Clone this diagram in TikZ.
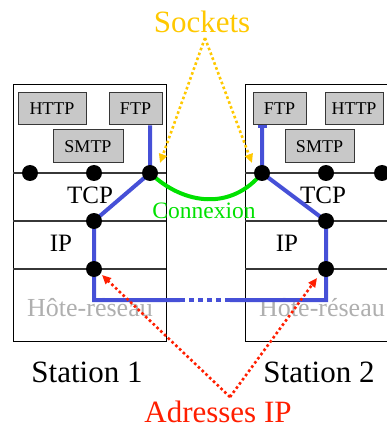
\documentclass[tikz,border=0pt]{standalone}
\usepackage{fontspec}
\setmainfont{Liberation Serif}
\usetikzlibrary{arrows.meta}
\definecolor{sockblue}{RGB}{70,80,215}
\definecolor{conngreen}{RGB}{0,225,0}
\definecolor{sockgold}{RGB}{255,200,0}
\definecolor{ipred}{RGB}{255,30,0}
\definecolor{layergray}{RGB}{55,55,55}
\definecolor{boxgray}{RGB}{200,200,200}
\definecolor{hostgray}{RGB}{175,175,175}
\tikzset{
  station/.style={draw=black,line width=1pt},
  layerline/.style={draw=layergray,line width=2pt},
  proto/.style={draw=layergray,fill=boxgray,line width=1pt,minimum height=32pt,inner sep=0pt,font=\fontsize{18}{18}\selectfont},
  dot/.style={circle,fill=black,minimum size=16pt,inner sep=0pt},
  bluepath/.style={draw=sockblue,line width=4pt},
  lbl/.style={inner sep=0pt,font=\fontsize{25}{25}\selectfont},
  big/.style={inner sep=0pt,font=\fontsize{31}{31}\selectfont},
  goldarrow/.style={draw=sockgold,line width=2.6pt,dash pattern=on 2.6pt off 2.6pt,-{Triangle[length=9pt,width=8pt]}},
  redarrow/.style={draw=ipred,line width=2.6pt,dash pattern=on 2.6pt off 2.6pt,-{Triangle[length=9pt,width=8pt]}},
}
\begin{document}
\begin{tikzpicture}[x=1pt,y=-1pt]
\useasboundingbox (0,0) rectangle (387,430);
% station boxes
\draw[station] (13,85) rectangle (166,341);
\draw[station] (245,85) rectangle (400,341);
\foreach \y in {173,221,269}{
  \draw[layerline] (13,\y) -- (166,\y);
  \draw[layerline] (245,\y) -- (400,\y);
}
% protocol boxes
\node[proto,minimum width=68pt] (http1) at (52,109) {HTTP};
\node[proto,minimum width=53pt] (ftp1) at (135.5,109) {FTP};
\node[proto,minimum width=70pt,minimum height=33pt] (smtp1) at (88,146.5) {SMTP};
\node[proto,minimum width=53pt] (ftp2) at (279.5,109) {FTP};
\node[proto,minimum width=58pt] (http2) at (354,109) {HTTP};
\node[proto,minimum width=69pt,minimum height=33pt] (smtp2) at (319.5,146.5) {SMTP};
% layer labels
\node[lbl] (tcp1) at (90,195) {TCP};
\node[lbl] (ip1) at (61,243) {IP};
\node[lbl,text=hostgray,font=\fontsize{26}{26}\selectfont] (host1) at (90,308) {Hôte-réseau};
\node[lbl] (tcp2) at (323,195) {TCP};
\node[lbl] (ip2) at (287,243) {IP};
\node[lbl,text=hostgray,font=\fontsize{26}{26}\selectfont] (host2) at (322,308) {Hôte-réseau};
% coordinates of the points
\coordinate (a1) at (30,173);
\coordinate (b1) at (94,173);
\coordinate (s1) at (150,173);
\coordinate (t1) at (94,221);
\coordinate (i1) at (94,269);
\coordinate (n1) at (94,300);
\coordinate (d1) at (180,300);
\coordinate (s2) at (262,173);
\coordinate (b2) at (326,173);
\coordinate (a2) at (382,173);
\coordinate (t2) at (326,221);
\coordinate (i2) at (326,269);
\coordinate (n2) at (326,300);
\coordinate (d2) at (230,300);
% blue path
\draw[bluepath,line join=miter] (ftp1.south -| s1) -- (s1) -- (t1) -- (i1) -- (n1) -- (d1);
\draw[bluepath,dash pattern=on 5pt off 4pt] (d1) -- (d2);
\draw[bluepath,line join=miter,-{Bar[width=9pt,line width=2.5pt]}] (d2) -- (n2) -- (i2) -- (t2) -- (s2) -- (ftp2.south -| s2);
% green connection
\draw[draw=conngreen,line width=4pt] (s1) .. controls (185,206) and (232,210) .. (s2);
\node[lbl,text=conngreen,font=\fontsize{23.5}{23.5}\selectfont] (conn) at (204,211) {Connexion};
% dots
\foreach \p in {a1,b1,s1,t1,i1,s2,b2,a2,t2,i2}{
  \node[dot] (dot-\p) at (\p) {};
}
% station names
\node[big] (st1) at (87,372) {Station 1};
\node[big] (st2) at (319,372) {Station 2};
% sockets
\node[big,text=sockgold] (sock) at (202,22) {Sockets};
\coordinate (sockfoot) at (205,38);
\coordinate (sockt1) at (160,163);
\coordinate (sockt2) at (252,163);
\draw[goldarrow] (sockfoot) -- (sockt1);
\draw[goldarrow] (sockfoot) -- (sockt2);
% IP addresses
\node[big,text=ipred] (addr) at (218,412) {Adresses IP};
\coordinate (addrtop) at (230,397);
\coordinate (addrt1) at (102,275);
\coordinate (addrt2) at (317,278);
\draw[redarrow] (addrtop) -- (addrt1);
\draw[redarrow] (addrtop) -- (addrt2);
\end{tikzpicture}
\end{document}
